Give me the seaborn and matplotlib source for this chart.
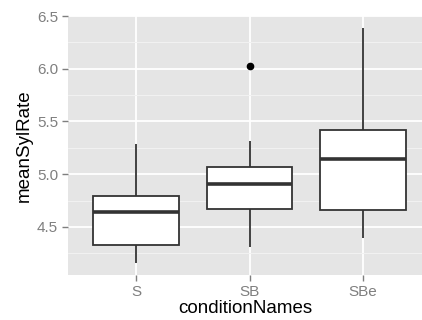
import pandas as pd
import matplotlib
matplotlib.use("Agg")
import matplotlib.pyplot as plt
import seaborn as sns
import numpy as np

# speech rate per condition
cond_s = [4.153, 4.25, 4.327, 4.50, 4.64, 4.72, 4.79, 5.00, 5.29]
cond_sb = [4.305, 4.55, 4.666, 4.80, 4.903, 5.00, 5.07, 5.317, 6.03]
cond_sbe = [4.39, 4.55, 4.66, 4.90, 5.14, 5.30, 5.42, 5.80, 6.383]
categories = ["S", "SB", "SBe"]

df = pd.DataFrame({
    "conditionNames": ["S"] * len(cond_s) + ["SB"] * len(cond_sb) + ["SBe"] * len(cond_sbe),
    "meanSylRate": cond_s + cond_sb + cond_sbe,
})

sns.set_theme(style="darkgrid")
plt.rcParams["font.family"] = ["Liberation Sans", "DejaVu Sans"]

fig = plt.figure(figsize=(4.22, 3.2), dpi=100)
ax = fig.add_axes([0.161, 0.141, 0.839, 0.809])
ax.set_facecolor("#E5E5E5")

line_col = "#333333"
sns.boxplot(data=df, x="conditionNames", y="meanSylRate", order=categories,
            width=0.75, color="white", linecolor=line_col, linewidth=1.3,
            showcaps=False, ax=ax,
            boxprops=dict(facecolor="white", edgecolor=line_col),
            medianprops=dict(color=line_col, linewidth=2.6),
            flierprops=dict(marker="o", markerfacecolor="black",
                            markeredgecolor="black", markersize=4.5))

ax.set_xlim(-0.6, 2.52)
ax.set_ylim(4.045, 6.5)
ax.set_yticks([4.5, 5.0, 5.5, 6.0, 6.5])
ax.set_yticks([4.25, 4.75, 5.25, 5.75, 6.25], minor=True)
ax.grid(which="major", color="white", linewidth=1.3)
ax.grid(which="minor", axis="y", color="#F2F2F2", linewidth=0.7)
ax.grid(which="minor", axis="x", visible=False)
ax.set_axisbelow(True)
for sp in ax.spines.values():
    sp.set_visible(False)

ax.tick_params(axis="both", which="major", bottom=True, left=True,
               colors="#7F7F7F", labelcolor="#7F7F7F",
               length=4, width=1, labelsize=11, direction="out", pad=3)
ax.tick_params(axis="both", which="minor", length=0)
ax.set_xlabel("conditionNames", fontsize=13.5, color="black", labelpad=1)
ax.set_ylabel("meanSylRate", fontsize=13.5, color="black", labelpad=3)

fig.savefig("out.png", dpi=100)
